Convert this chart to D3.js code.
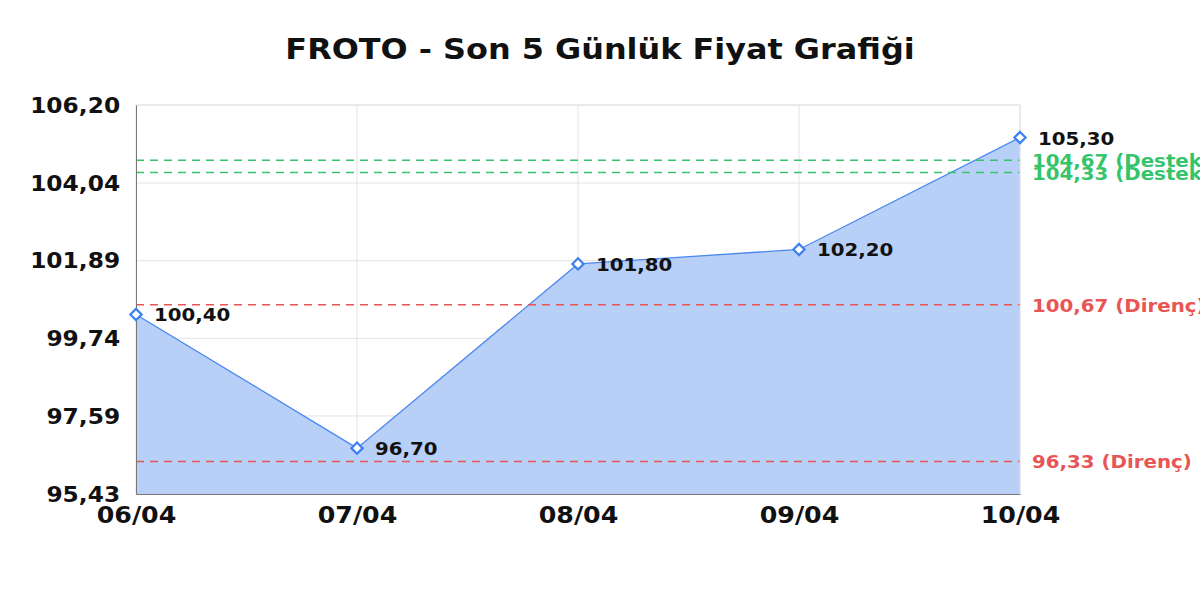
<!DOCTYPE html>
<html>
<head>
<meta charset="utf-8">
<script src="https://cdn.jsdelivr.net/npm/d3@7"></script>
<style>
  body { margin: 0; background: #fff; }
  svg { font-family: "DejaVu Sans", sans-serif; overflow: visible; }
</style>
</head>
<body>
<div id="chart"></div>
<script>
var dates = ["06/04", "07/04", "08/04", "09/04", "10/04"];
var prices = [100.40, 96.70, 101.80, 102.20, 105.30];
var yTicks = [95.43, 97.59, 99.74, 101.89, 104.04, 106.20];
var supportLevels = [104.67, 104.33];
var resistanceLevels = [100.67, 96.33];

function fmt(v) {
    return v.toFixed(2).replace(".", ",");
}

(function draw() {
    "use strict";
    var width = 1200, height = 600;
    var margin = {left: 136, right: 180, top: 105, bottom: 106};
    // the reference glyphs are a bit wider than plain DejaVu Bold
    var stretch = 1.1;

    var svg = d3.select("#chart")
        .append("svg")
        .attr("width", width)
        .attr("height", height);

    var x = d3.scalePoint()
        .domain(dates)
        .range([margin.left, width - margin.right]);

    var y = d3.scaleLinear()
        .domain([yTicks[0], yTicks[yTicks.length - 1]])
        .range([height - margin.bottom, margin.top]);

    var x0 = margin.left, x1 = width - margin.right;
    var yTop = margin.top, yBot = height - margin.bottom;

    // grid
    svg.append("g")
        .selectAll("line")
        .data(yTicks)
        .enter()
        .append("line")
        .attr("x1", x0).attr("x2", x1)
        .attr("y1", function (d) { return y(d); })
        .attr("y2", function (d) { return y(d); })
        .attr("stroke", "#e3e3e3")
        .attr("stroke-width", 1);

    svg.append("g")
        .selectAll("line")
        .data(dates)
        .enter()
        .append("line")
        .attr("x1", function (d) { return x(d); })
        .attr("x2", function (d) { return x(d); })
        .attr("y1", yTop).attr("y2", yBot)
        .attr("stroke", "#e3e3e3")
        .attr("stroke-width", 1);

    // area + line
    var pts = dates.map(function (d, i) { return {date: d, value: prices[i]}; });

    svg.append("path")
        .datum(pts)
        .attr("fill", "#b8d0f8")
        .attr("d", d3.area()
            .x(function (d) { return x(d.date); })
            .y0(yBot)
            .y1(function (d) { return y(d.value); }));

    svg.append("path")
        .datum(pts)
        .attr("fill", "none")
        .attr("stroke", "#4a88ee")
        .attr("stroke-width", 1.3)
        .attr("d", d3.line()
            .x(function (d) { return x(d.date); })
            .y(function (d) { return y(d.value); }));

    // support / resistance lines
    var levels = supportLevels.map(function (v) { return {v: v, kind: "Destek", color: "#35c46a"}; })
        .concat(resistanceLevels.map(function (v) { return {v: v, kind: "Direnç", color: "#e85555"}; }));

    svg.append("g")
        .selectAll("line")
        .data(levels)
        .enter()
        .append("line")
        .attr("x1", x0).attr("x2", x1)
        .attr("y1", function (d) { return y(d.v); })
        .attr("y2", function (d) { return y(d.v); })
        .attr("stroke", function (d) { return d.color; })
        .attr("stroke-width", 1.5)
        .attr("stroke-dasharray", "8,6");

    svg.append("g")
        .selectAll("text")
        .data(levels)
        .enter()
        .append("text")
        .attr("transform", function (d) {
            return "translate(" + (x1 + 12) + "," + (y(d.v) + 7) + ") scale(" + stretch + ",1)";
        })
        .attr("fill", function (d) { return d.color; })
        .style("font-size", "18px")
        .style("font-weight", "bold")
        .text(function (d) { return fmt(d.v) + " (" + d.kind + ")"; });

    // axes frame
    svg.append("line")
        .attr("x1", x0).attr("x2", x1).attr("y1", yTop).attr("y2", yTop)
        .attr("stroke", "#e3e3e3");
    svg.append("line")
        .attr("x1", x1).attr("x2", x1).attr("y1", yTop).attr("y2", yBot)
        .attr("stroke", "#e3e3e3");

    var yAxis = svg.append("g")
        .attr("transform", "translate(" + x0 + ",0)")
        .call(d3.axisLeft(y).tickValues(yTicks).tickSize(0).tickPadding(15).tickFormat(fmt));
    yAxis.select(".domain").attr("stroke", "#777");
    yAxis.selectAll("text")
        .style("font-size", "22px")
        .style("font-weight", "bold")
        .style("font-family", "DejaVu Sans")
        .attr("transform", "scale(1.06,1)")
        .attr("fill", "#111");

    var xAxis = svg.append("g")
        .attr("transform", "translate(0," + yBot + ")")
        .call(d3.axisBottom(x).tickSize(0).tickPadding(13));
    xAxis.select(".domain").attr("stroke", "#777");
    xAxis.selectAll("text")
        .style("font-size", "23px")
        .style("font-weight", "bold")
        .style("font-family", "DejaVu Sans")
        .attr("transform", "scale(" + stretch + ",1)")
        .attr("fill", "#111");

    // markers
    svg.append("g")
        .selectAll("path")
        .data(pts)
        .enter()
        .append("path")
        .attr("transform", function (d) {
            return "translate(" + x(d.date) + "," + y(d.value) + ")";
        })
        .attr("d", d3.symbol().type(d3.symbolDiamond2).size(80))
        .attr("fill", "#fff")
        .attr("stroke", "#3b7ff0")
        .attr("stroke-width", 2.2);

    // value labels
    svg.append("g")
        .selectAll("text")
        .data(pts)
        .enter()
        .append("text")
        .attr("transform", function (d) {
            return "translate(" + (x(d.date) + 18) + "," + (y(d.value) + 7) + ") scale(" + stretch + ",1)";
        })
        .style("font-size", "18px")
        .style("font-weight", "bold")
        .attr("fill", "#111")
        .text(function (d) { return fmt(d.value); });

    // title
    svg.append("text")
        .attr("transform", "translate(" + (width / 2) + ",59) scale(" + stretch + ",1)")
        .attr("text-anchor", "middle")
        .style("font-size", "29px")
        .style("font-weight", "bold")
        .attr("fill", "#111")
        .text("FROTO - Son 5 Günlük Fiyat Grafiği");
})();
</script>
</body>
</html>
